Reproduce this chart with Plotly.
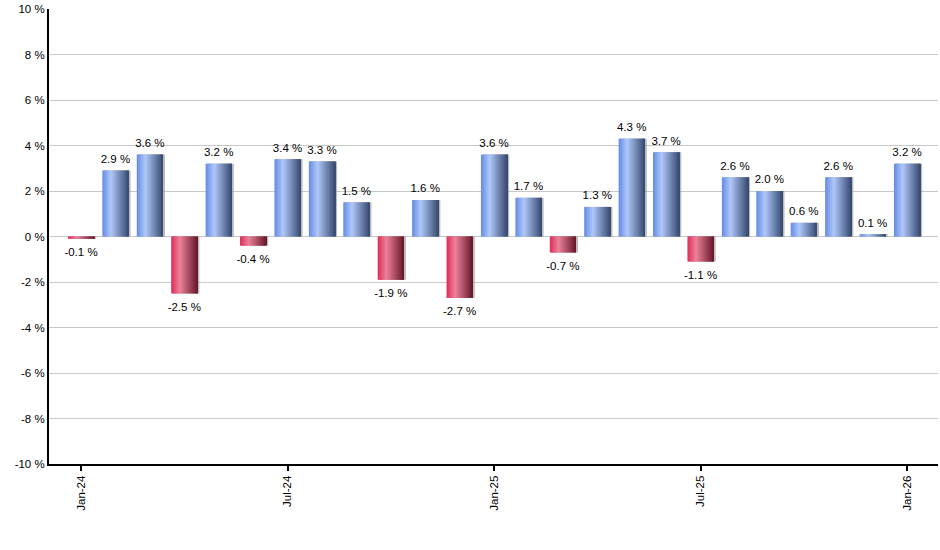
import plotly.graph_objects as go

# monthly change, Jan-24 .. Jan-26
months = ["Jan-24", "Feb-24", "Mar-24", "Apr-24", "May-24", "Jun-24",
          "Jul-24", "Aug-24", "Sep-24", "Oct-24", "Nov-24", "Dec-24",
          "Jan-25", "Feb-25", "Mar-25", "Apr-25", "May-25", "Jun-25",
          "Jul-25", "Aug-25", "Sep-25", "Oct-25", "Nov-25", "Dec-25",
          "Jan-26"]
changes = [-0.1, 2.9, 3.6, -2.5, 3.2, -0.4, 3.4, 3.3, 1.5, -1.9, 1.6, -2.7,
           3.6, 1.7, -0.7, 1.3, 4.3, 3.7, -1.1, 2.6, 2.0, 0.6, 2.6, 0.1, 3.2]

x_tick_vals = ["Jan-24", "Jul-24", "Jan-25", "Jul-25", "Jan-26"]
y_tick_vals = [-10, -8, -6, -4, -2, 0, 2, 4, 6, 8, 10]
y_tick_text = ["-10 %", "-8 %", "-6 %", "-4 %", "-2 %", "0 %",
               "2 %", "4 %", "6 %", "8 %", "10 %"]

bar_labels = [f"{v:.1f} %" for v in changes]

W = 0.76      # bar width in category units
N = 26        # stripes used to fake the horizontal gradient

# gradient stops (position, rgb)
blue_stops = [(0.0, (100, 140, 228)), (0.33, (176, 200, 250)), (1.0, (54, 74, 112))]
red_stops = [(0.0, (222, 44, 88)), (0.33, (236, 130, 154)), (1.0, (104, 24, 44))]


def grad(stops, t):
    for (p0, c0), (p1, c1) in zip(stops[:-1], stops[1:]):
        if t <= p1:
            f = (t - p0) / (p1 - p0)
            c = [round(a + (b - a) * f) for a, b in zip(c0, c1)]
            return f"rgb({c[0]},{c[1]},{c[2]})"
    c = stops[-1][1]
    return f"rgb({c[0]},{c[1]},{c[2]})"


fig = go.Figure()

# drop shadow to the right of each bar
fig.add_trace(go.Bar(
    x=months, y=changes, width=W, offset=-W / 2 + 0.06,
    marker=dict(color="rgba(140,140,140,0.6)", line=dict(width=0)),
    hoverinfo="skip", showlegend=False,
))

# gradient stripes (each overlaps the next to avoid seams)
for i in range(N):
    t = (i + 0.5) / N
    off = -W / 2 + i * W / N
    w = min(W / N * 2.0, W / 2 - off)
    colors = [grad(blue_stops if v >= 0 else red_stops, t) for v in changes]
    fig.add_trace(go.Bar(
        x=months, y=changes, width=w, offset=off,
        marker=dict(color=colors, line=dict(width=0)),
        hovertemplate="%{x}: %{y:.1f} %<extra></extra>" if i == N // 2 else None,
        hoverinfo=None if i == N // 2 else "skip",
        showlegend=False,
    ))

# value labels above / below the bar ends (invisible markers set the gap)
fig.add_trace(go.Scatter(
    x=months, y=changes, mode="markers+text", text=bar_labels,
    textposition=["top center" if v >= 0 else "bottom center" for v in changes],
    marker=dict(size=[6 if v >= 0 else 12 for v in changes],
                color="rgba(0,0,0,0)", line=dict(width=0, color="rgba(0,0,0,0)")),
    textfont=dict(size=11.5, color="black", family="Liberation Sans, Arial, sans-serif"),
    cliponaxis=False, hoverinfo="skip", showlegend=False,
))

fig.update_layout(
    width=940, height=550, autosize=False,
    barmode="overlay",
    margin=dict(l=49, r=2, t=9, b=86),
    paper_bgcolor="white", plot_bgcolor="white",
    font=dict(family="Liberation Sans, Arial, sans-serif", size=11, color="black"),
    xaxis=dict(
        type="category", categoryorder="array", categoryarray=months,
        range=[-0.93, 24.9], automargin=False,
        tickmode="array", tickvals=x_tick_vals, ticktext=x_tick_vals,
        tickangle=-90, ticks="outside", ticklen=5, tickwidth=2, tickcolor="black",
        showline=True, linecolor="black", linewidth=2,
        showgrid=False, tickfont=dict(size=11.5),
    ),
    yaxis=dict(
        range=[-10, 10], automargin=False,
        tickmode="array", tickvals=y_tick_vals, ticktext=y_tick_text,
        showline=True, linecolor="black", linewidth=2,
        showgrid=True, gridcolor="#c8c8c8", gridwidth=1, zeroline=False,
        ticks="", tickfont=dict(size=11.5),
    ),
)

# page body margin would otherwise push the chart 8px right/down
fig.write_html("out.html", config={"displayModeBar": False},
               post_script="document.body.style.margin='0';")
